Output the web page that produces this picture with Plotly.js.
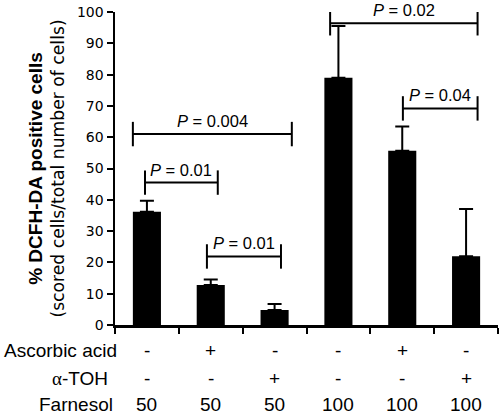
<!DOCTYPE html>
<html>
<head>
<meta charset="utf-8">
<script src="https://cdn.plot.ly/plotly-3.0.1.min.js"></script>
<style>html,body{margin:0;padding:0;background:#fff;}#chart{width:500px;height:414px;}</style>
</head>
<body>
<div id="chart"></div>
<script>
// Data
const groupIndex = [0, 1, 2, 3, 4, 5];
const ascorbicAcid = ['-', '+', '-', '-', '+', '-'];
const alphaTOH = ['-', '-', '+', '-', '-', '+'];
const farnesol = ['50', '50', '50', '100', '100', '100'];
const positivePct = [36.2, 12.8, 4.8, 79.0, 55.7, 22.0];
const errorUpper = [3.5, 1.7, 1.9, 16.5, 7.7, 15.1];
const rowLabels = ['Ascorbic acid', '<span style="font-family:Liberation Serif, Times New Roman, serif">\u03b1</span>-TOH', 'Farnesol'];
const rowLabelShift = [4, -5, 0];
const yTicks = [0, 10, 20, 30, 40, 50, 60, 70, 80, 90, 100];

// Significance brackets
const bracketLeft = [-0.03, 0.94, -0.22, 2.87, 4.01];
const bracketRight = [1.11, 2.10, 2.27, 5.18, 5.18];
const bracketY = [45.5, 21.9, 61.0, 96.4, 69.2];
const bracketP = ['0.01', '0.01', '0.004', '0.02', '0.04'];

const ARIAL = 'Arial, "Liberation Sans", sans-serif';
const DEJAVU = '"DejaVu Sans", Verdana, sans-serif';
const capHalf = 3.9;

const trace = {
  type: 'bar',
  x: groupIndex,
  y: positivePct,
  width: 0.44,
  marker: {color: '#000', line: {width: 0}},
  error_y: {
    type: 'data', symmetric: false,
    array: errorUpper,
    arrayminus: errorUpper.map(() => 0),
    color: '#000', thickness: 2, width: 7
  },
  hoverinfo: 'skip'
};

const shapes = [];
const annotations = [];
for (let i = 0; i < bracketY.length; i++) {
  const ln = {color: '#000', width: 2};
  shapes.push({type: 'line', xref: 'x', yref: 'y', x0: bracketLeft[i], x1: bracketRight[i], y0: bracketY[i], y1: bracketY[i], line: ln});
  shapes.push({type: 'line', xref: 'x', yref: 'y', x0: bracketLeft[i], x1: bracketLeft[i], y0: bracketY[i] - capHalf, y1: bracketY[i] + capHalf, line: ln});
  shapes.push({type: 'line', xref: 'x', yref: 'y', x0: bracketRight[i], x1: bracketRight[i], y0: bracketY[i] - capHalf, y1: bracketY[i] + capHalf, line: ln});
  annotations.push({
    xref: 'x', yref: 'y', x: (bracketLeft[i] + bracketRight[i]) / 2, y: bracketY[i],
    text: '<i>P</i> = ' + bracketP[i], showarrow: false, yanchor: 'bottom', yshift: 2,
    font: {family: ARIAL, size: 16.5, color: '#000'}
  });
}

const rowY = [-0.083, -0.172, -0.254];
const rows = [ascorbicAcid, alphaTOH, farnesol];
for (let r = 0; r < rows.length; r++) {
  annotations.push({
    xref: 'paper', yref: 'paper', x: 0, y: rowY[r], xanchor: 'right', yanchor: 'middle',
    xshift: rowLabelShift[r], text: rowLabels[r], showarrow: false,
    font: {family: ARIAL, size: 19, color: '#000'}
  });
  for (let i = 0; i < groupIndex.length; i++) {
    annotations.push({
      xref: 'x', yref: 'paper', x: groupIndex[i], y: rowY[r], yanchor: 'middle',
      text: rows[r][i], showarrow: false,
      font: {family: ARIAL, size: 19, color: '#000'}
    });
  }
}

const layout = {
  width: 500, height: 414,
  margin: {l: 115, r: 2, t: 12, b: 89, pad: 0},
  paper_bgcolor: '#fff', plot_bgcolor: '#fff',
  showlegend: false,
  font: {family: ARIAL, color: '#000'},
  xaxis: {
    range: [-0.5, 5.5], showgrid: false, zeroline: false,
    showline: true, linecolor: '#000', linewidth: 2.5,
    tickmode: 'array', tickvals: [-0.5, 0.5, 1.5, 2.5, 3.5, 4.5, 5.5],
    ticktext: ['', '', '', '', '', '', ''],
    ticks: 'outside', ticklen: 6, tickwidth: 2, tickcolor: '#000',
    fixedrange: true
  },
  yaxis: {
    range: [0, 100], showgrid: false, zeroline: false,
    showline: true, linecolor: '#000', linewidth: 2.5,
    tickmode: 'array', tickvals: yTicks, ticktext: yTicks.map(String),
    ticks: 'outside', ticklen: 6, tickwidth: 2, tickcolor: '#000',
    tickfont: {family: DEJAVU, size: 14, color: '#000'},
    title: {
      text: '<b><span style="font-family:Arial, Liberation Sans, sans-serif;font-size:19px">% DCFH-DA positive cells</span></b><br>(scored cells/total number of cells)',
      font: {family: DEJAVU, size: 17.2, color: '#000'}, standoff: 8
    },
    fixedrange: true
  },
  shapes: shapes,
  annotations: annotations
};

Plotly.newPlot('chart', [trace], layout, {displayModeBar: false, staticPlot: true});
</script>
</body>
</html>
